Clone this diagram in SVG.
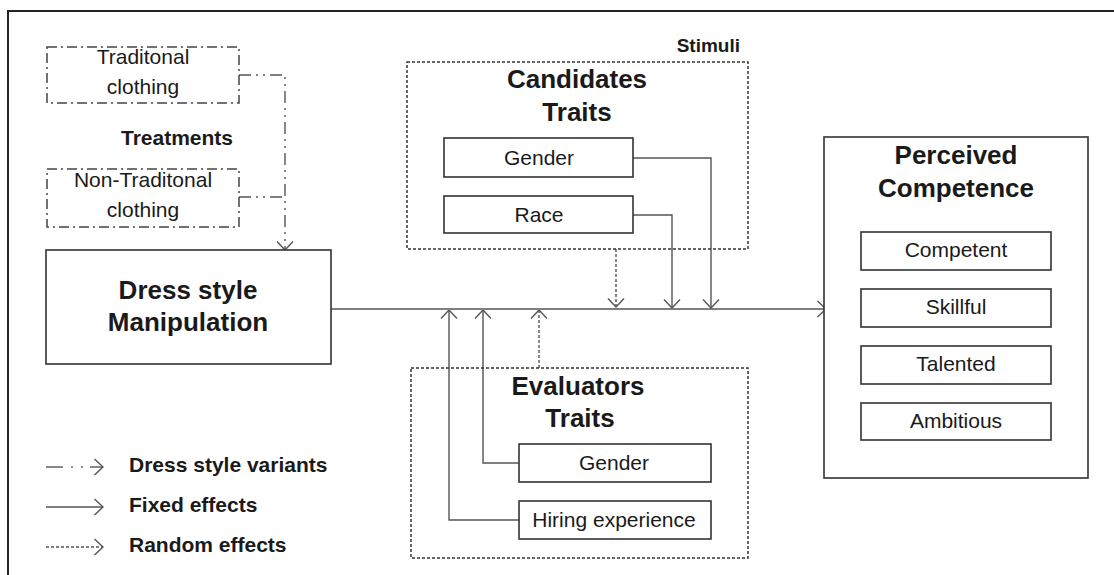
<svg xmlns="http://www.w3.org/2000/svg" width="1114" height="575" viewBox="0 0 1114 575">
<style>
text{font-family:"Liberation Sans",Arial,sans-serif;fill:#1a1a1a}
.t{font-size:26px;font-weight:bold;text-anchor:middle}
.b{font-size:21px;font-weight:bold}
.r{font-size:21px;text-anchor:middle}
.box{fill:#fff;stroke:#333;stroke-width:1.6}
.dd{fill:none;stroke:#444;stroke-width:1.5;stroke-dasharray:10 4 2 4}
.dot{fill:none;stroke:#333;stroke-width:1.5;stroke-dasharray:3 2}
.c{fill:none;stroke:#555;stroke-width:1.4}
.cdd{fill:none;stroke:#555;stroke-width:1.4;stroke-dasharray:12 5 2 5 2 5}
.cdot{fill:none;stroke:#555;stroke-width:1.4;stroke-dasharray:3 2}
</style>
<defs>
<marker id="ah" viewBox="0 0 10 18" refX="9.5" refY="9" markerWidth="10" markerHeight="18" markerUnits="userSpaceOnUse" orient="auto">
<path d="M1,1 L9.5,9 L1,17" fill="none" stroke="#555" stroke-width="1.4"/>
</marker>
</defs>
<rect width="1114" height="575" fill="#fff"/>
<path d="M8,575 V11 H1114" fill="none" stroke="#222" stroke-width="2"/>

<g id="connectors">
<path class="cdd" d="M239,75 H285 V250" marker-end="url(#ah)"/>
<path class="cdd" d="M239,197 H285"/>
<path class="c" d="M331,309 H826" stroke-width="2" marker-end="url(#ah)"/>
<path class="c" d="M633,158 H711 V308" marker-end="url(#ah)"/>
<path class="c" d="M633,215 H672 V308" marker-end="url(#ah)"/>
<path class="cdot" d="M616,249 V307" marker-end="url(#ah)"/>
<path class="c" d="M519,463 H483 V310" marker-end="url(#ah)"/>
<path class="c" d="M519,520 H449 V310" marker-end="url(#ah)"/>
<path class="cdot" d="M539,368 V310" marker-end="url(#ah)"/>
</g>

<g id="traditional">
<rect class="dd" x="47" y="47" width="192" height="56"/>
<text class="r" x="143" y="64">Traditonal</text>
<text class="r" x="143" y="94">clothing</text>
</g>
<g id="treatments">
<text class="b" x="177" y="145" text-anchor="middle">Treatments</text>
</g>
<g id="nontraditional">
<rect class="dd" x="47" y="169" width="192" height="58"/>
<text class="r" x="143" y="187">Non-Traditonal</text>
<text class="r" x="143" y="217">clothing</text>
</g>

<g id="dress">
<rect class="box" x="46" y="250" width="285" height="114"/>
<text class="t" x="188" y="299">Dress style</text>
<text class="t" x="188" y="331">Manipulation</text>
</g>

<g id="candidates">
<text class="b" x="740" y="52" text-anchor="end" style="font-size:19px">Stimuli</text>
<rect class="dot" x="407" y="62" width="341" height="187"/>
<text class="t" x="577" y="88">Candidates</text>
<text class="t" x="577" y="121">Traits</text>
</g>
<g id="cand-gender">
<rect class="box" x="444" y="138" width="189" height="39"/>
<text class="r" x="539" y="165">Gender</text>
</g>
<g id="cand-race">
<rect class="box" x="444" y="196" width="189" height="37"/>
<text class="r" x="539" y="222">Race</text>
</g>

<g id="evaluators">
<rect class="dot" x="411" y="368" width="337" height="190"/>
<text class="t" x="578" y="395">Evaluators</text>
<text class="t" x="580" y="427">Traits</text>
</g>
<g id="eval-gender">
<rect class="box" x="519" y="444" width="192" height="38"/>
<text class="r" x="614" y="470">Gender</text>
</g>
<g id="eval-hiring">
<rect class="box" x="519" y="501" width="192" height="38"/>
<text class="r" x="614" y="527">Hiring experience</text>
</g>

<g id="perceived">
<rect class="box" x="824" y="137" width="264" height="341"/>
<text class="t" x="956" y="164">Perceived</text>
<text class="t" x="956" y="197">Competence</text>
</g>
<g id="competent">
<rect class="box" x="861" y="232" width="190" height="38"/>
<text class="r" x="956" y="257">Competent</text>
</g>
<g id="skillful">
<rect class="box" x="861" y="289" width="190" height="38"/>
<text class="r" x="956" y="314">Skillful</text>
</g>
<g id="talented">
<rect class="box" x="861" y="346" width="190" height="38"/>
<text class="r" x="956" y="371">Talented</text>
</g>
<g id="ambitious">
<rect class="box" x="861" y="403" width="190" height="37"/>
<text class="r" x="956" y="428">Ambitious</text>
</g>

<g id="legend">
<path class="c" d="M46,467 H63"/>
<circle cx="72" cy="467" r="0.9" fill="#555"/>
<circle cx="82" cy="467" r="0.9" fill="#555"/>
<path class="c" d="M90,467 H103" stroke-width="0" marker-end="url(#ah)"/>
<path class="c" d="M46,507 H103" marker-end="url(#ah)"/>
<path class="cdot" d="M46,547 H103" marker-end="url(#ah)"/>
<text class="b" x="129" y="472">Dress style variants</text>
<text class="b" x="129" y="512">Fixed effects</text>
<text class="b" x="129" y="552">Random effects</text>
</g>
</svg>
